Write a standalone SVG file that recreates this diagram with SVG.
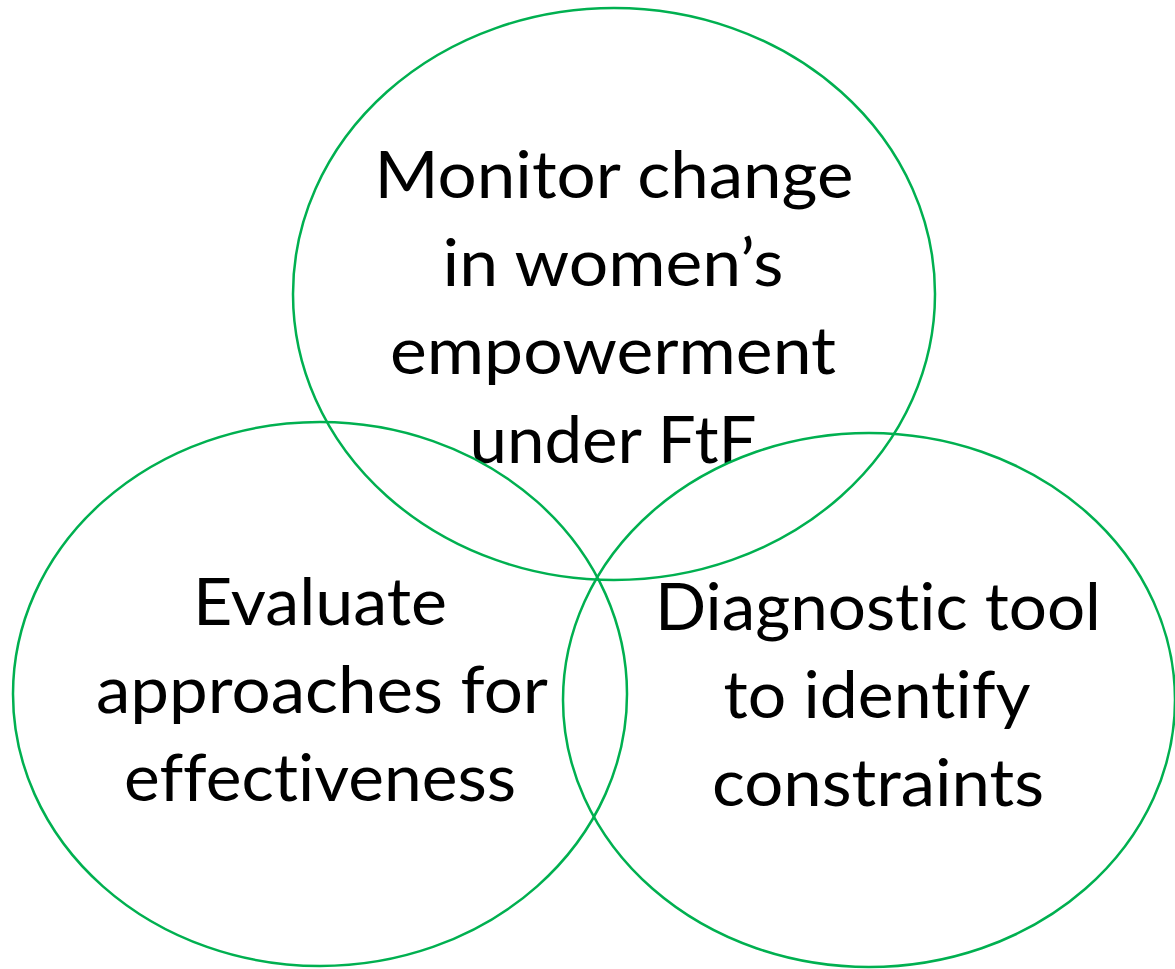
<svg xmlns="http://www.w3.org/2000/svg" width="1175" height="969" viewBox="0 0 1175 969">
<style>
.c{fill:none;stroke:#00B050;stroke-width:2.5}
.t{font-family:Lato,"Open Sans","Liberation Sans",sans-serif;font-size:66px;fill:#000;text-anchor:middle;font-variant-ligatures:none;font-feature-settings:"liga" 0,"dlig" 0}
</style>
<rect width="1175" height="969" fill="#fff"/>
<g id="node-top">
<ellipse class="c" cx="614" cy="294" rx="321" ry="286"/>
<text class="t" x="614" y="198" textLength="479" lengthAdjust="spacingAndGlyphs">Monitor change</text>
<text class="t" x="613" y="286" textLength="341" lengthAdjust="spacingAndGlyphs">in women’s</text>
<text class="t" x="613" y="374" textLength="446" lengthAdjust="spacingAndGlyphs">empowerment</text>
<text class="t" x="613" y="463" textLength="287" lengthAdjust="spacingAndGlyphs">under FtF</text>
</g>
<g id="node-left">
<ellipse class="c" cx="320" cy="694" rx="307" ry="272"/>
<text class="t" x="320" y="625" textLength="254" lengthAdjust="spacingAndGlyphs">Evaluate</text>
<text class="t" x="322" y="713" textLength="452" lengthAdjust="spacingAndGlyphs">approaches for</text>
<text class="t" x="320" y="801" textLength="392" lengthAdjust="spacingAndGlyphs">effectiveness</text>
</g>
<g id="node-right">
<ellipse class="c" cx="869" cy="700" rx="306" ry="267"/>
<text class="t" x="878" y="630" textLength="446" lengthAdjust="spacingAndGlyphs">Diagnostic tool</text>
<text class="t" x="877" y="718" textLength="307" lengthAdjust="spacingAndGlyphs">to identify</text>
<text class="t" x="878" y="806" textLength="332" lengthAdjust="spacingAndGlyphs">constraints</text>
</g>
<g id="connectors"></g>
</svg>
